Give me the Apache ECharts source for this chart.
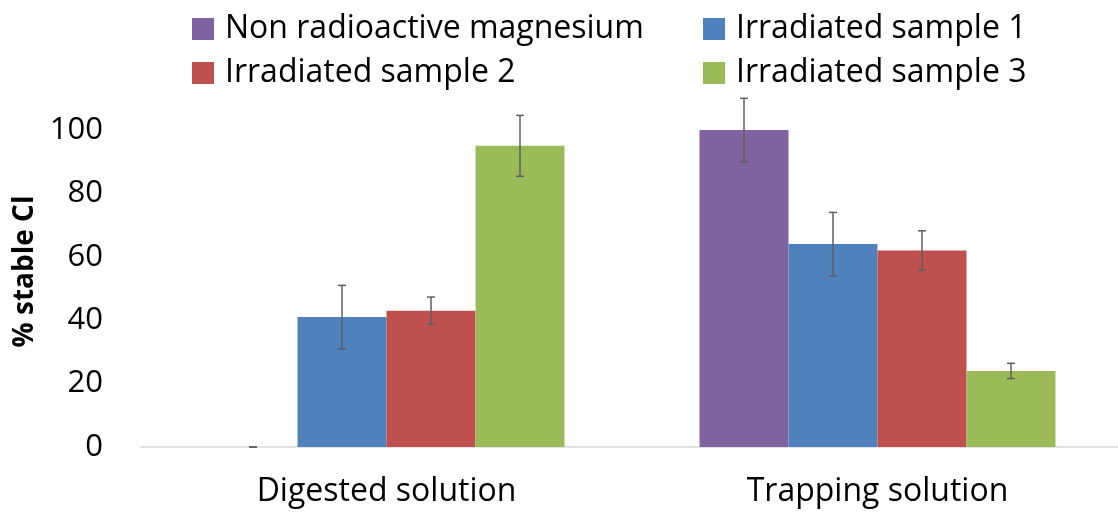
<!DOCTYPE html>
<html>
<head>
<meta charset="utf-8">
<script src="https://cdn.jsdelivr.net/npm/echarts@6/dist/echarts.min.js"></script>
<style>
html,body{margin:0;padding:0;background:#fff;}
#chart{width:1118px;height:514px;}
</style>
</head>
<body>
<div id="chart"></div>
<script>
const categories = ['Digested solution', 'Trapping solution'];
const seriesNames = ['Non radioactive magnesium', 'Irradiated sample 1', 'Irradiated sample 2', 'Irradiated sample 3'];
const nonRadioactive = [0, 100];
const irradiated1 = [41, 64];
const irradiated2 = [43, 62];
const irradiated3 = [95, 24];
const errNonRadioactive = [0, 10];
const errIrradiated1 = [10, 10];
const errIrradiated2 = [4.3, 6.2];
const errIrradiated3 = [9.6, 2.4];
const yTicks = [0, 20, 40, 60, 80, 100];

const colors = ['#8064A2', '#4F81BD', '#C0504D', '#9BBB59'];
const values = [nonRadioactive, irradiated1, irradiated2, irradiated3];
const errors = [errNonRadioactive, errIrradiated1, errIrradiated2, errIrradiated3];
const FONT = '"Open Sans"';
const BAR_W = 89;

const chart = echarts.init(document.getElementById('chart'), null, {renderer: 'canvas'});

const barSeries = seriesNames.map((name, i) => ({
  name: name,
  type: 'bar',
  data: values[i],
  barWidth: BAR_W,
  barGap: '0%',
  itemStyle: {color: colors[i]},
  z: 2
}));

const errSeries = seriesNames.map((name, i) => ({
  type: 'custom',
  name: name + ' err',
  z: 5,
  clip: false,
  silent: true,
  data: values[i].map((v, k) => [k, v - errors[i][k], v + errors[i][k]]),
  renderItem: function (params, api) {
    const lo = api.coord([api.value(0), api.value(1)]);
    const hi = api.coord([api.value(0), api.value(2)]);
    const x = lo[0] + (i - 1.5) * BAR_W;
    const cap = 4;
    const style = {stroke: '#5f5f5f', lineWidth: 1.5};
    return {
      type: 'group',
      children: [
        {type: 'line', shape: {x1: x, y1: hi[1], x2: x, y2: lo[1]}, style: style},
        {type: 'line', shape: {x1: x - cap, y1: hi[1], x2: x + cap, y2: hi[1]}, style: style},
        {type: 'line', shape: {x1: x - cap, y1: lo[1], x2: x + cap, y2: lo[1]}, style: style}
      ]
    };
  }
}));

const legendPos = [[192, 13], [703, 13], [192, 57], [703, 57]];
const legends = seriesNames.map((name, i) => ({
  data: [name],
  left: legendPos[i][0],
  top: legendPos[i][1],
  padding: 0,
  itemWidth: 22,
  itemHeight: 22,
  icon: 'rect',
  selectedMode: false,
  textStyle: {fontFamily: FONT, fontSize: 32, color: '#000', padding: [0, 0, 0, 6]}
}));

chart.setOption({
  animation: false,
  backgroundColor: '#fff',
  legend: legends,
  grid: {left: 141, width: 982, top: 130, bottom: 67, containLabel: false, outerBoundsMode: 'none'},
  xAxis: {
    type: 'category',
    data: categories,
    axisLine: {lineStyle: {color: '#d9d9d9', width: 1.5}},
    axisTick: {show: false},
    axisLabel: {fontFamily: FONT, fontSize: 32, color: '#000', margin: 29}
  },
  yAxis: {
    type: 'value',
    min: 0,
    max: 100,
    interval: 20,
    name: '% stable Cl',
    nameLocation: 'middle',
    nameGap: 92,
    nameTextStyle: {fontFamily: FONT, fontSize: 28, fontWeight: 'bold', color: '#000', padding: [0, 0, 0, 34]},
    axisLine: {show: false},
    axisTick: {show: false},
    splitLine: {show: false},
    axisLabel: {
      fontFamily: FONT, fontSize: 31, color: '#000', margin: 38,
      formatter: v => yTicks.includes(v) ? String(v) : ''
    }
  },
  series: barSeries.concat(errSeries)
});
</script>
</body>
</html>
